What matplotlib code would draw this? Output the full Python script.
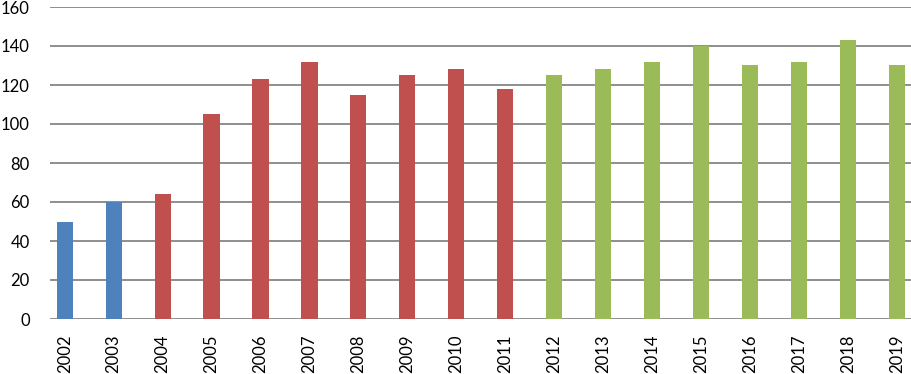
import numpy as np
import matplotlib
matplotlib.use("Agg")
import matplotlib.pyplot as plt

plt.rcParams["font.family"] = ["Lato", "DejaVu Sans"]

years = [str(y) for y in range(2002, 2020)]
values = [50, 60, 64, 105, 123, 132, 115, 125, 128, 118,
          125, 128, 132, 140, 130, 132, 143, 130]
groups = ["a"] * 2 + ["b"] * 8 + ["c"] * 8
group_colors = {"a": "#4F81BD", "b": "#C0504D", "c": "#9BBB59"}

fig = plt.figure(figsize=(9.12, 3.74), dpi=100)
ax = fig.add_axes([50.5 / 912, 55 / 374, 1 - 50.5 / 912, (319 - 7) / 374])

x = np.arange(len(years))
ax.bar(x, values, width=0.33, color=[group_colors[g] for g in groups], zorder=3)

ax.set_ylim(0, 160)
ax.set_yticks(np.arange(0, 161, 20))
ax.set_xlim(-0.29, 17.31)
ax.set_xticks(x)
ax.set_xticklabels(years, rotation=90)

ax.yaxis.grid(True, color="#868686", linewidth=1.3, zorder=0)
ax.set_axisbelow(True)
for sp in ax.spines.values():
    sp.set_visible(False)
ax.tick_params(axis="both", length=0, labelsize=12, colors="black")
ax.tick_params(axis="y", pad=15)
ax.tick_params(axis="x", pad=11)

fig.savefig("out.png", dpi=100)
